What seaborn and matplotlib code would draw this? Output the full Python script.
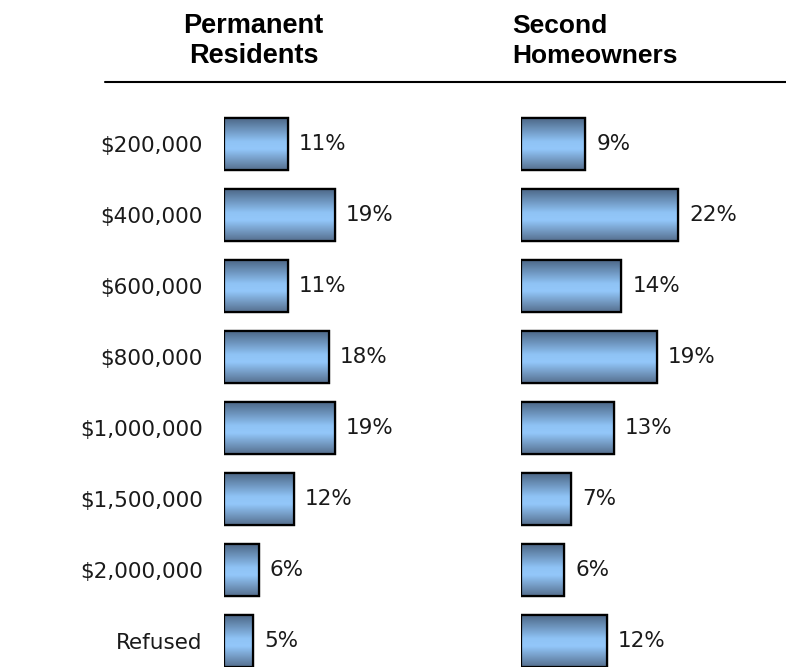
import numpy as np
import pandas as pd
import matplotlib
matplotlib.use('Agg')
import matplotlib.pyplot as plt
import seaborn as sns
from matplotlib.colors import LinearSegmentedColormap

# data
prices = ['$200,000', '$400,000', '$600,000', '$800,000', '$1,000,000',
          '$1,500,000', '$2,000,000', 'Refused']
permanent = [11, 19, 11, 18, 19, 12, 6, 5]
second = [9, 22, 14, 19, 13, 7, 6, 12]
groups = [['Permanent', 'Residents'], ['Second', 'Homeowners']]

sns.set_theme(style='white')
plt.rcParams['font.family'] = ['DejaVu Sans']

fig = plt.figure(figsize=(7.86, 6.67), dpi=100)
W, H = 786, 667
ROW = 71.0      # px between rows
TOP = 108.5     # px, top edge of the first row slot

# bar gradient: dark top, light blue middle, dark bottom
grad = LinearSegmentedColormap.from_list(
    'bar', [(0, '#4d6888'), (0.45, '#8fc3f5'), (0.6, '#93c7fa'), (1, '#56708f')])

def panel(left_px, right_px, vals, xmax, ticklabels):
    ax = fig.add_axes([left_px / W, 0, (right_px - left_px) / W, (H - TOP) / H])
    df = pd.DataFrame({'price': prices, 'pct': vals})
    sns.barplot(data=df, x='pct', y='price', orient='h', ax=ax, width=0.72,
                color='#8fc3f5', edgecolor='black', linewidth=1.6)
    for p in ax.patches:
        x0, y0 = p.get_x(), p.get_y()
        w, h = p.get_width(), p.get_height()
        img = ax.imshow(np.linspace(0, 1, 100).reshape(-1, 1), cmap=grad,
                        extent=[x0, x0 + w, y0 + h, y0], aspect='auto',
                        zorder=p.get_zorder() + 0.1, interpolation='bicubic')
        img.set_clip_path(p)
        edge = plt.Rectangle((x0, y0), w, h, fill=False, edgecolor='black',
                             linewidth=1.6, zorder=p.get_zorder() + 0.2)
        ax.add_patch(edge)
    ax.set_xlim(0, xmax)
    ax.set_ylim(-0.5 + (H - TOP) / ROW, -0.5)
    ax.bar_label(ax.containers[0], labels=[f'{v}%' for v in vals],
                 padding=8, fontsize=15.5, color='#1a1a1a')
    ax.set_xlabel('')
    ax.set_ylabel('')
    ax.set_xticks([])
    if ticklabels:
        ax.tick_params(axis='y', length=0, pad=15, labelsize=15.5,
                       labelcolor='#1a1a1a')
    else:
        ax.set_yticks([])
    sns.despine(ax=ax, left=True, bottom=True)
    ax.patch.set_alpha(0)
    return ax

panel(223.5, 500, permanent, 276.5 / 5.85, True)
panel(521, 786, second, 265 / 7.15, False)

# column headers and rule
for line, base in zip(groups[0], [33, 63]):
    fig.text(253.5 / W, 1 - base / H, line, ha='center', va='baseline',
             fontsize=19.5, fontweight='bold', family='Liberation Sans',
             color='black')
for line, base in zip(groups[1], [33, 63]):
    fig.text(512 / W, 1 - base / H, line, ha='left', va='baseline',
             fontsize=19, fontweight='bold', family='Liberation Sans',
             color='black')
fig.add_artist(plt.Line2D([105 / W, 1], [1 - 82 / H, 1 - 82 / H],
                          color='black', linewidth=1.5))

fig.savefig('out.png', dpi=100)
